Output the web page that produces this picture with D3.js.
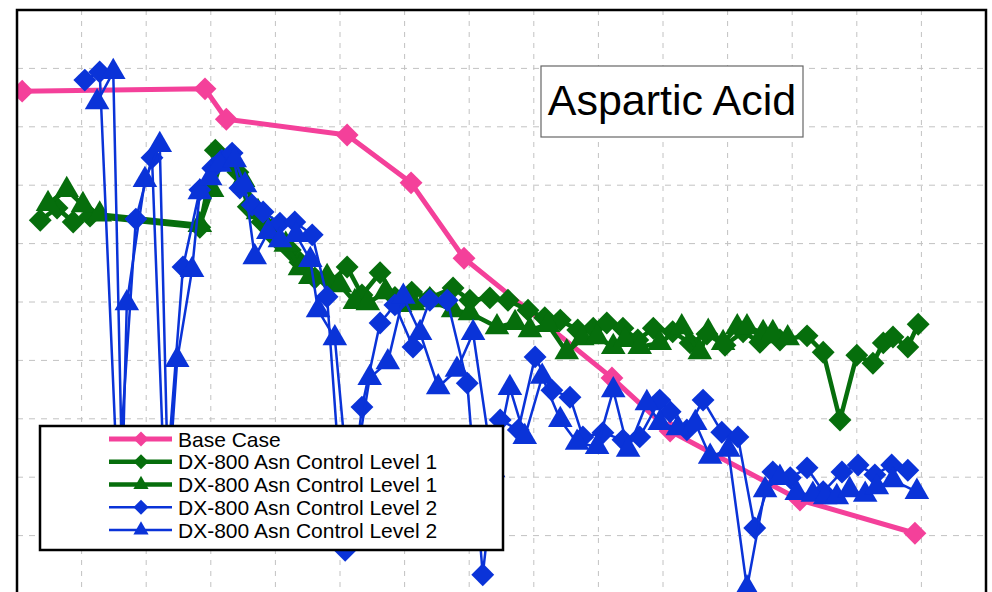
<!DOCTYPE html>
<html>
<head>
<meta charset="utf-8">
<script src="https://cdn.jsdelivr.net/npm/d3@7"></script>
<style>
body { margin: 0; background: #fff; }
svg { display: block; font-family: "Liberation Sans", Arial, sans-serif; }
</style>
</head>
<body>
<svg id="chart"></svg>
<script>
// values (x: time units, y: relative level)
let baseCase = [[0.8,86.1],[29.1,86.5],[32.4,81.3],[51.1,78.6],[61.0,70.4],[69.2,57.5],[92.1,37.0],[101.1,27.9],[121.2,16.1],[139.0,10.4]]

let level1Diamond = [[3.6,64.0],[6.2,66.1],[8.7,63.7],[11.3,64.7],[28.3,62.8],[30.7,76.0],[34.2,72.2],[35.8,66.3],[37.9,63.7],[40.1,60.9],
  [42.3,58.9],[43.8,56.8],[46.1,54.1],[48.5,53.4],[51.1,56.0],[53.4,51.2],[56.2,55.0],[58.5,50.8],[61.1,51.7],[63.9,50.7],
  [67.5,52.4],[70.1,50.3],[73.2,50.7],[76.0,50.3],[79.1,48.6],[81.7,47.3],[84.1,46.9],[86.8,45.2],[89.2,45.5],[91.3,46.4],
  [93.8,45.5],[96.1,43.5],[98.5,45.5],[101.5,44.9],[104.2,43.0],[106.8,44.5],[109.6,42.6],[112.4,44.9],[115.0,43.1],[118.1,43.5],
  [122.3,44.2],[124.8,41.4],[127.4,29.8],[130.0,40.9],[132.5,39.5],[134.1,43.0],[135.6,44.0],[137.9,42.3],[139.5,46.2]]

let level1Triangle = [[4.8,66.8],[7.7,69.2],[10.2,66.6],[12.8,65.0],[28.3,63.2],[30.2,69.2],[31.7,74.3],[35.0,70.9],[37.3,65.4],[39.5,62.3],
  [41.6,59.8],[43.8,55.8],[45.4,54.3],[48.0,54.3],[50.0,52.9],[52.3,50.0],[54.3,49.8],[57.0,51.7],[59.3,49.5],[61.3,49.8],
  [63.9,50.3],[67.5,48.6],[70.1,48.1],[74.3,45.7],[77.1,46.4],[79.4,45.2],[82.2,46.1],[85.1,41.4],[87.5,43.8],[89.8,44.0],
  [92.3,42.3],[94.1,43.5],[96.4,42.3],[99.5,43.0],[102.9,45.7],[105.7,41.4],[107.0,44.9],[109.3,43.0],[111.5,45.7],[113.0,45.7],
  [115.5,44.7],[117.0,44.7],[119.3,43.8]]

let level2Diamond = [[10.5,88.0],[12.8,89.4],[15.6,17.8],[18.4,64.2],[20.9,74.7],[22.9,16.1],[25.7,56.0],[28.3,69.2],[30.3,72.9],[31.7,74.3],
  [33.3,75.5],[34.5,69.5],[36.4,66.6],[38.1,65.4],[40.7,63.5],[43.0,63.7],[45.7,61.5],[48.0,50.9],[50.8,7.5],[53.4,32.0],
  [56.2,46.4],[58.5,49.5],[61.3,42.3],[63.9,50.3],[66.6,50.3],[69.7,36.1],[72.1,3.3],[74.8,29.8],[77.6,28.1],[80.2,40.6],
  [82.8,34.9],[85.6,33.7],[87.6,26.9],[90.7,27.6],[93.8,26.4],[96.4,26.9],[99.5,33.2],[101.1,31.2],[103.7,28.1],[106.2,33.2],
  [109.1,27.7],[111.6,26.9],[114.2,11.3],[117.0,20.9],[119.7,19.9],[122.3,21.6],[124.8,17.5],[127.7,20.9],[130.2,22.1],[132.8,20.4],
  [135.4,22.1],[137.9,21.2]]

let level2Triangle = [[12.4,84.2],[14.9,89.4],[16.3,19.5],[17.0,49.8],[19.8,70.9],[22.1,76.9],[23.4,17.8],[24.8,40.1],[27.1,55.5],[28.3,68.8],
  [29.9,71.2],[31.4,73.5],[33.7,74.3],[35.3,70.0],[36.8,57.7],[38.9,62.0],[40.7,60.6],[43.2,61.5],[45.4,57.2],[46.6,48.6],
  [49.2,43.8],[51.5,16.1],[54.6,37.0],[57.4,39.7],[59.8,50.9],[62.4,44.7],[65.2,35.4],[68.1,38.4],[70.6,44.7],[73.7,21.2],
  [76.3,35.3],[78.6,26.9],[81.3,37.2],[84.1,29.8],[86.7,25.9],[89.8,25.2],[92.3,34.9],[94.6,24.7],[97.5,32.7],[99.5,29.3],
  [102.3,28.4],[105.0,29.3],[107.3,23.5],[110.1,24.7],[113.0,1.0],[115.8,17.8],[118.1,19.9],[120.7,17.3],[123.2,17.0],[125.1,16.6],
  [126.9,16.6],[128.9,17.8],[131.3,17.0],[133.1,18.3],[135.6,19.5],[139.3,17.5]]

let seriesNames = ['Base Case', 'DX-800 Asn Control Level 1', 'DX-800 Asn Control Level 1', 'DX-800 Asn Control Level 2', 'DX-800 Asn Control Level 2']
let xTicks = d3.range(10, 150, 10)
let yTicks = d3.range(10, 100, 10)
let title = 'Aspartic Acid'

let width = 992
let height = 592

let pink = '#f4409a'
let green = '#066e0c'
let blue = '#0a33d8'

let series = [
  {data: baseCase, color: pink, lw: 5, shape: 'diamond'},
  {data: level1Diamond, color: green, lw: 4.5, shape: 'diamond'},
  {data: level1Triangle, color: green, lw: 4.5, shape: 'triangle'},
  {data: level2Diamond, color: blue, lw: 2.5, shape: 'diamond'},
  {data: level2Triangle, color: blue, lw: 2.5, shape: 'triangle'}
]

let svg = d3.select('#chart')
            .attr('width', width)
            .attr('height', height)

let xScale = d3.scaleLinear().domain([0, 150]).range([17, 986])
let yScale = d3.scaleLinear().domain([0, 100]).range([594, 10])

let symbolPath = (shape, big) => {
  if (shape == 'diamond') {
    return d3.symbol().type(d3.symbolSquare).size(big ? 262 : 112)()
  }
  return d3.symbol().type(d3.symbolTriangle).size(big ? 262 : 100)()
}
let symbolRot = (shape) => shape == 'diamond' ? ' rotate(45)' : ''

// background + grid
svg.append('rect')
   .attr('x', xScale(0)).attr('y', yScale(100))
   .attr('width', xScale(150) - xScale(0)).attr('height', 700)
   .attr('fill', '#fff')

svg.append('g')
   .selectAll('line')
   .data(xTicks)
   .enter()
   .append('line')
   .attr('x1', d => xScale(d)).attr('x2', d => xScale(d))
   .attr('y1', yScale(100)).attr('y2', yScale(-5))
   .attr('stroke', '#c2c2c2')
   .attr('stroke-width', 1)
   .attr('stroke-dasharray', '5,6')

svg.append('g')
   .selectAll('line')
   .data(yTicks)
   .enter()
   .append('line')
   .attr('x1', xScale(0)).attr('x2', xScale(150))
   .attr('y1', d => yScale(d)).attr('y2', d => yScale(d))
   .attr('stroke', '#c2c2c2')
   .attr('stroke-width', 1)
   .attr('stroke-dasharray', '6,6')

svg.append('clipPath')
   .attr('id', 'plotclip')
   .append('rect')
   .attr('x', xScale(0)).attr('y', yScale(100))
   .attr('width', xScale(150) - xScale(0)).attr('height', 700)

let plot = svg.append('g').attr('clip-path', 'url(#plotclip)')

let line = d3.line().x(d => xScale(d[0])).y(d => yScale(d[1]))

series.forEach(s => {
  plot.append('path')
      .attr('d', line(s.data))
      .attr('fill', 'none')
      .attr('stroke', s.color)
      .attr('stroke-width', s.lw)
      .attr('stroke-linejoin', 'round')

  plot.append('g')
      .selectAll('path')
      .data(s.data)
      .enter()
      .append('path')
      .attr('d', symbolPath(s.shape, true))
      .attr('transform', d => 'translate(' + xScale(d[0]) + ',' + yScale(d[1]) + ')' + symbolRot(s.shape))
      .attr('fill', s.color)
})

// frame
svg.append('rect')
   .attr('x', xScale(0)).attr('y', yScale(100))
   .attr('width', xScale(150) - xScale(0)).attr('height', 700)
   .attr('fill', 'none')
   .attr('stroke', '#000')
   .attr('stroke-width', 2.5)

// title box
let tg = svg.append('g')
tg.append('rect')
  .attr('x', 541).attr('y', 66)
  .attr('width', 262).attr('height', 71)
  .attr('fill', '#fff')
  .attr('stroke', '#666')
  .attr('stroke-width', 1.2)
tg.append('text')
  .attr('x', 672).attr('y', 115)
  .attr('text-anchor', 'middle')
  .attr('font-size', 43)
  .attr('fill', '#000')
  .text(title)

// legend
let lg = svg.append('g')
lg.append('rect')
  .attr('x', 40).attr('y', 426)
  .attr('width', 463).attr('height', 124)
  .attr('fill', '#fff')
  .attr('stroke', '#000')
  .attr('stroke-width', 2.5)

series.forEach((s, i) => {
  let cy = 439 + i * 22.75
  lg.append('line')
    .attr('x1', 109).attr('x2', 172)
    .attr('y1', cy).attr('y2', cy)
    .attr('stroke', s.color)
    .attr('stroke-width', s.lw)
  lg.append('path')
    .attr('d', symbolPath(s.shape, false))
    .attr('transform', 'translate(141,' + cy + ')' + symbolRot(s.shape))
    .attr('fill', s.color)
  lg.append('text')
    .attr('x', 178).attr('y', cy + 7.5)
    .attr('font-size', 21)
    .attr('fill', '#000')
    .text(seriesNames[i])
})
</script>
</body>
</html>
